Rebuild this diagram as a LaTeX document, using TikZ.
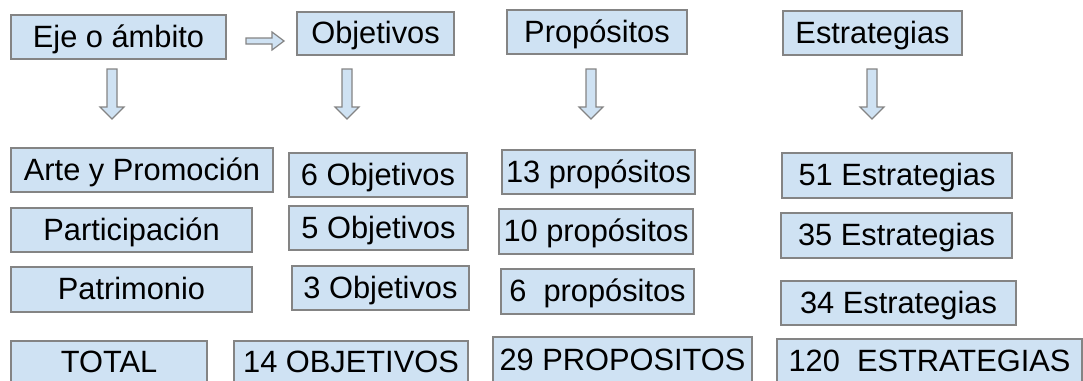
\documentclass[tikz,border=0pt]{standalone}
\usepackage{fontspec}
\setmainfont{Liberation Sans}
\definecolor{boxfill}{RGB}{207,226,243}
\definecolor{boxline}{RGB}{132,132,132}
\tikzset{
  cell/.style={draw=boxline, fill=boxfill, line width=1.3pt, inner sep=0pt,
    font=\fontsize{30.8}{36}\selectfont, text height=22pt, text depth=2pt},
  blockarrow/.style={draw=boxline, fill=boxfill, line width=1.2pt, line join=miter}
}
\newcommand\dnarrow[1]{%
  \draw[blockarrow] (#1-5,69) -- (#1+5,69) -- (#1+5,107) -- (#1+12,107) -- (#1,119)
    -- (#1-12,107) -- (#1-5,107) -- cycle;}
\begin{document}
\begin{tikzpicture}[x=1pt,y=-1pt]
\useasboundingbox (0,0) rectangle (1083,380);
\clip (0,0) rectangle (1083,380);
% header row
\node[cell, minimum width=215pt, minimum height=44pt] (eje) at (118.5,37) {Eje o ámbito};
\node[cell, minimum width=157pt, minimum height=43pt] (obj) at (375.5,33.5) {Objetivos};
\node[cell, minimum width=180pt, minimum height=44pt] (pro) at (597,32) {Propósitos};
\node[cell, minimum width=179pt, minimum height=44pt] (est) at (872.5,33) {Estrategias};
% arrows
\draw[blockarrow] (246,38) -- (272,38) -- (272,32) -- (284,41) -- (272,50) -- (272,44) -- (246,44) -- cycle;
\dnarrow{112}
\dnarrow{347}
\dnarrow{591}
\dnarrow{872}
% row 1
\node[cell, minimum width=262pt, minimum height=44pt] (a1) at (142,170) {Arte y Promoción};
\node[cell, minimum width=178pt, minimum height=44pt] (o1) at (378,175) {6 Objetivos};
\node[cell, minimum width=193pt, minimum height=44pt] (p1) at (598.5,172) {13 propósitos};
\node[cell, minimum width=230pt, minimum height=45pt] (e1) at (897,175.5) {51 Estrategias};
% row 2
\node[cell, minimum width=241pt, minimum height=44pt] (a2) at (131.5,230) {Participación};
\node[cell, minimum width=179pt, minimum height=44pt] (o2) at (378.5,228) {5 Objetivos};
\node[cell, minimum width=194pt, minimum height=45pt] (p2) at (596,231.5) {10 propósitos};
\node[cell, minimum width=231pt, minimum height=45pt] (e2) at (896.5,235.5) {35 Estrategias};
% row 3
\node[cell, minimum width=241pt, minimum height=45pt] (a3) at (131.5,289.5) {Patrimonio};
\node[cell, minimum width=177pt, minimum height=44pt] (o3) at (380.5,288) {3 Objetivos};
\node[cell, minimum width=193pt, minimum height=45pt] (p3) at (597.5,291.5) {6\ \ propósitos};
\node[cell, minimum width=235pt, minimum height=44pt] (e3) at (898.5,303) {34 Estrategias};
% totals
\node[cell, minimum width=196pt, minimum height=42pt] (tot) at (109,362) {TOTAL};
\node[cell, minimum width=234pt, minimum height=42pt] (ot) at (351,362) {14 OBJETIVOS};
\node[cell, minimum width=259pt, minimum height=46pt] (pt) at (622.5,360) {29 PROPOSITOS};
\node[cell, minimum width=305pt, minimum height=44pt] (et) at (929.5,361) {120\ \ ESTRATEGIAS};
\end{tikzpicture}
\end{document}
